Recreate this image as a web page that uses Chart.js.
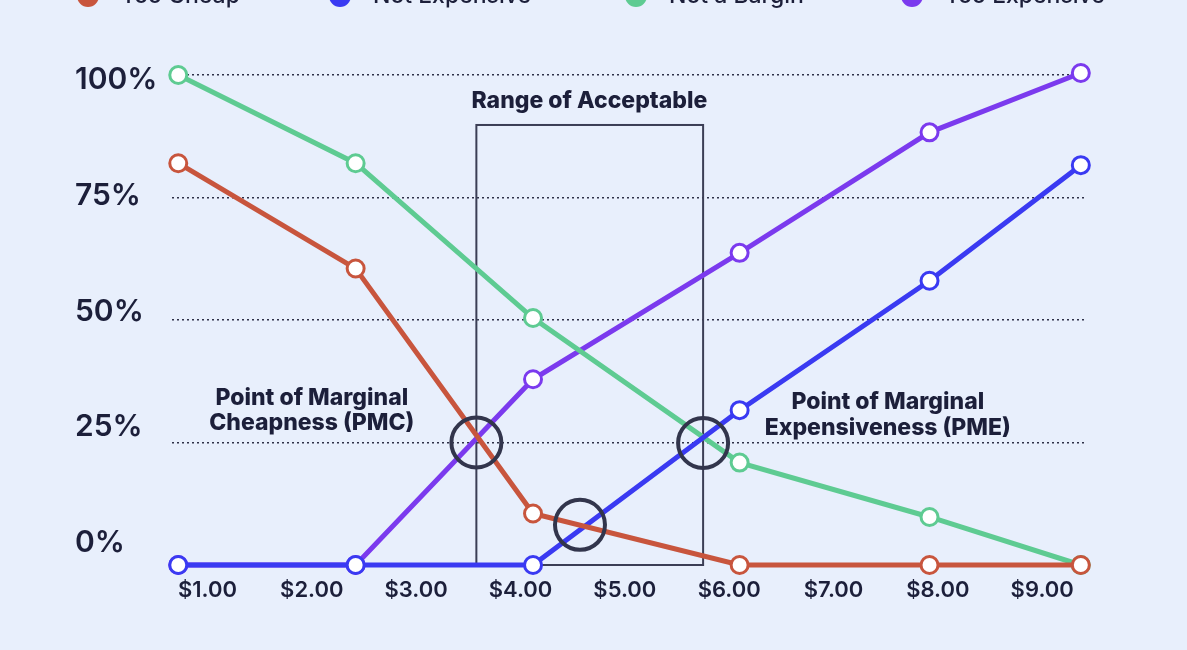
<!DOCTYPE html>
<html>
<head>
<meta charset="utf-8">
<script src="https://cdn.jsdelivr.net/npm/chart.js@4.4.1/dist/chart.umd.min.js"></script>
<style>
  html, body { margin: 0; padding: 0; background: #e8effc; overflow: hidden; }
  #wrap { position: absolute; left: 0; top: -30px; width: 1187px; height: 680px; }
</style>
</head>
<body>
<div id="wrap"><canvas id="psmChart"></canvas></div>
<script>
// price points (dollars) and answers (% of respondents)
const prices = [0.72, 2.42, 4.12, 6.10, 7.92, 9.37];
const tooCheap = [82, 60.5, 10.5, 0, 0, 0];
const notExpensive = [0, 0, 0, 31.6, 58, 81.6];
const notBargain = [100, 82, 50.4, 20.9, 9.8, 0];
const tooExpensive = [0, 0, 37.9, 63.7, 88.3, 100.4];

const xTicks = [1, 2, 3, 4, 5, 6, 7, 8, 9];
const yTicks = [0, 25, 50, 75, 100];

const seriesNames = ['Too Cheap', 'Not Expensive', 'Not a Bargin', 'Too Expensive'];
const seriesColors = ['#c8553d', '#3a3af2', '#5ecb92', '#7b3aee'];

const ink = '#1c1f3a';
const font = 'Inter, "Noto Sans", sans-serif';

function toPoints(values) {
    return values.map((v, i) => ({ x: prices[i], y: v }));
}

const datasets = [tooCheap, notExpensive, notBargain, tooExpensive].map((vals, i) => ({
    label: seriesNames[i],
    data: toPoints(vals),
    borderColor: seriesColors[i],
    backgroundColor: '#ffffff',
    pointBackgroundColor: '#ffffff',
    pointBorderColor: seriesColors[i],
    borderWidth: 5,
    pointRadius: 8.5,
    pointBorderWidth: 3,
    tension: 0,
    clip: false
}));

// legend drawn along the top edge (it's cut off in the original)
const topLegend = {
    id: 'topLegend',
    afterDraw(chart) {
        const ctx = chart.ctx;
        const dotX = [88, 340, 636, 912];
        ctx.save();
        ctx.font = '500 23px ' + font;
        ctx.textBaseline = 'middle';
        chart.data.datasets.forEach((ds, i) => {
            ctx.fillStyle = ds.borderColor;
            ctx.beginPath();
            ctx.arc(dotX[i], 26, 11, 0, Math.PI * 2);
            ctx.fill();
            ctx.fillStyle = ink;
            ctx.fillText(ds.label, dotX[i] + 33, 26);
        });
        ctx.restore();
    }
};

// acceptable range box, intersection circles and notes
const notes = {
    id: 'notes',
    beforeDatasetsDraw(chart) {
        const { ctx, scales: { x, y } } = chart;
        ctx.save();
        ctx.strokeStyle = '#3b3e55';
        ctx.lineWidth = 2;
        const l = x.getPixelForValue(3.577), r = x.getPixelForValue(5.75);
        const t = y.getPixelForValue(89.8), b = y.getPixelForValue(0);
        ctx.strokeRect(l, t, r - l, b - t);
        ctx.restore();
    },
    afterDatasetsDraw(chart) {
        const { ctx, scales: { x, y } } = chart;
        ctx.save();
        ctx.strokeStyle = '#32354c';
        ctx.lineWidth = 4;
        [[3.577, 25], [5.75, 24.9], [4.57, 8.2]].forEach(([cx, cy]) => {
            ctx.beginPath();
            ctx.arc(x.getPixelForValue(cx), y.getPixelForValue(cy), 25, 0, Math.PI * 2);
            ctx.stroke();
        });

        ctx.fillStyle = ink;
        ctx.textAlign = 'center';
        ctx.textBaseline = 'middle';
        ctx.font = '800 23px ' + font;
        ctx.fillText('Range of Acceptable', x.getPixelForValue(4.66), y.getPixelForValue(94.7));
        ctx.fillText('Point of Marginal', x.getPixelForValue(2.0), y.getPixelForValue(34.1));
        ctx.fillText('Cheapness (PMC)', x.getPixelForValue(2.0), y.getPixelForValue(28.9));
        ctx.fillText('Point of Marginal', x.getPixelForValue(7.52), y.getPixelForValue(33.3));
        ctx.fillText('Expensiveness (PME)', x.getPixelForValue(7.52), y.getPixelForValue(28.0));
        ctx.restore();
    }
};

new Chart(document.getElementById('psmChart'), {
    type: 'line',
    data: { datasets: datasets },
    options: {
        responsive: true,
        maintainAspectRatio: false,
        animation: false,
        layout: {
            padding: { top: 105, right: 102, left: 75, bottom: 0 }
        },
        plugins: {
            legend: { display: false },
            tooltip: { enabled: false }
        },
        scales: {
            x: {
                type: 'linear',
                min: 0.66,
                max: 9.41,
                afterBuildTicks: (s) => { s.ticks = xTicks.map(v => ({ value: v })); },
                afterFit: (s) => { s.height = 85; },
                grid: { display: false },
                border: { display: false },
                ticks: {
                    color: ink,
                    padding: 4,
                    maxRotation: 0,
                    font: { family: font, size: 22, weight: '600' },
                    callback: (v) => '$' + Number(v).toFixed(2)
                }
            },
            y: {
                min: 0,
                max: 100,
                afterBuildTicks: (s) => { s.ticks = yTicks.map(v => ({ value: v })); },
                afterFit: (s) => { s.width = 0; },
                border: { display: false, dash: [2, 3] },
                grid: {
                    drawTicks: false,
                    color: (c) => c.tick && c.tick.value === 0 ? 'rgba(0,0,0,0)' : '#2e3148',
                    lineWidth: 1.5
                },
                ticks: { display: false }
            },
            // tick labels in the original sit slightly off the grid lines
            yLabels: {
                type: 'linear',
                position: 'left',
                min: -4.75,
                max: 101.08,
                afterBuildTicks: (s) => { s.ticks = yTicks.map(v => ({ value: v })); },
                afterFit: (s) => { s.width = 97; },
                border: { display: false },
                grid: { display: false },
                ticks: {
                    color: ink,
                    crossAlign: 'far',
                    font: { family: font, size: 30, weight: '600' },
                    callback: (v) => v + '%'
                }
            }
        }
    },
    plugins: [topLegend, notes]
});
</script>
</body>
</html>
